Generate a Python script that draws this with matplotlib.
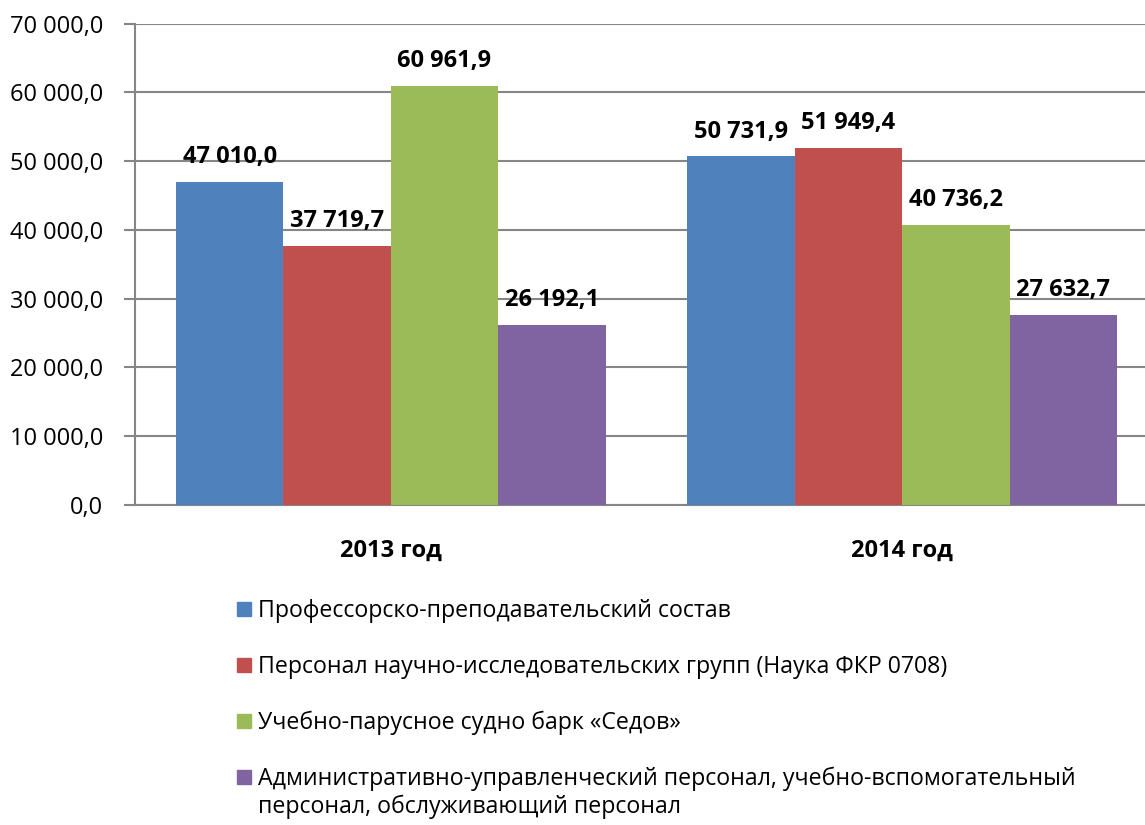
import numpy as np
import matplotlib.pyplot as plt
from matplotlib.patches import Rectangle

plt.rcParams['font.family'] = ['Open Sans', 'DejaVu Sans']

years = ['2013 год', '2014 год']
series_names = [
    'Профессорско-преподавательский состав',
    'Персонал научно-исследовательских групп (Наука ФКР 0708)',
    'Учебно-парусное судно барк «Седов»',
    'Административно-управленческий персонал, учебно-вспомогательный\nперсонал, обслуживающий персонал',
]
teachers = [47010.0, 50731.9]
research = [37719.7, 51949.4]
sedov = [60961.9, 40736.2]
admin = [26192.1, 27632.7]
colors = ['#4F81BD', '#C0504D', '#9BBB59', '#8064A2']
yticks = [0, 10000, 20000, 30000, 40000, 50000, 60000, 70000]

W, H = 1145, 825


def fmt(v):
    s = '{:,.1f}'.format(v)
    return s.replace(',', ' ').replace('.', ',')


fig = plt.figure(figsize=(W / 100, H / 100), dpi=100)
# right edge runs past the figure like in the source picture
ax = fig.add_axes([135 / W, 320 / H, 1023 / W, 481.5 / H])

x = np.arange(len(years))
w = 0.21
for i, vals in enumerate([teachers, research, sedov, admin]):
    pos = x - 1.5 * w + i * w
    ax.bar(pos, vals, width=w, color=colors[i], zorder=3)
    for p, v in zip(pos, vals):
        ax.annotate(fmt(v), (p, v), xytext=(0, 9), textcoords='offset points',
                    ha='center', va='bottom', fontsize=17, fontweight='bold', zorder=4)

ax.set_xlim(-0.5, 1.5)
ax.set_ylim(0, 70000)
ax.set_yticks(yticks)
ax.set_yticklabels([fmt(t) for t in yticks], fontsize=17)
ax.set_xticks(x)
ax.set_xticklabels(years, fontsize=17, fontweight='bold')
ax.tick_params(axis='x', length=0, pad=24)
ax.tick_params(axis='y', length=8, width=1.5, color='#868686', pad=15)
ax.yaxis.grid(True, color='#868686', linewidth=1.5, zorder=0)
for s in ['top', 'right']:
    ax.spines[s].set_visible(False)
for s in ['left', 'bottom']:
    ax.spines[s].set_color('#868686')
    ax.spines[s].set_linewidth(1.5)

# legend drawn by hand: square lines up with the first text line
rows_y = [609, 665, 721, 777]
for name, c, yc in zip(series_names, colors, rows_y):
    fig.add_artist(Rectangle((237 / W, 1 - (yc + 7) / H), 14 / W, 14 / H,
                             transform=fig.transFigure, color=c))
    fig.text(258 / W, 1 - (yc - 10) / H, name, fontsize=16.7, va='top', ha='left',
             linespacing=1.2)

plt.savefig('out.png', dpi=100)
